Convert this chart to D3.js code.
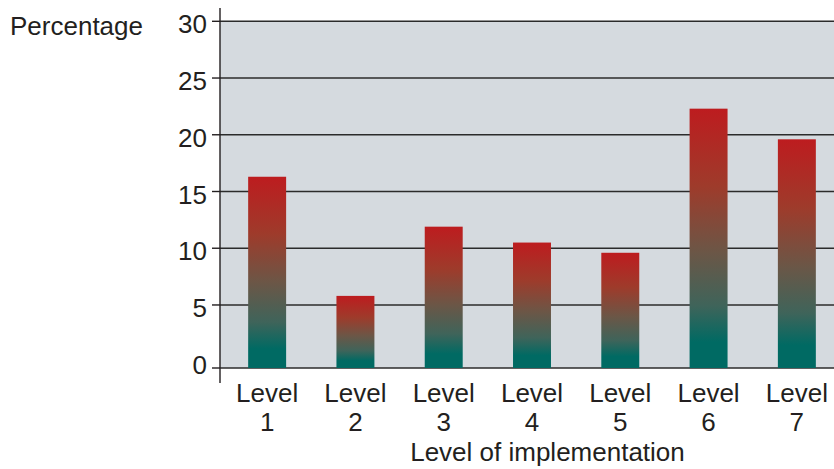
<!DOCTYPE html>
<html>
<head>
<meta charset="utf-8">
<script src="https://cdn.jsdelivr.net/npm/d3@7"></script>
<style>
  html, body { margin: 0; padding: 0; background: #ffffff; }
  svg { display: block; }
  text { font-family: "Liberation Sans", Arial, Helvetica, sans-serif; fill: #231f20; }
</style>
</head>
<body>
<svg id="chart" width="834" height="469"></svg>
<script>
// Share of respondents at each level of implementation
const categories = ["Level 1", "Level 2", "Level 3", "Level 4", "Level 5", "Level 6", "Level 7"];
const values = [16.3, 5.8, 11.9, 10.5, 9.6, 22.3, 19.6];
const yTicks = [0, 5, 10, 15, 20, 25, 30];
const yTitle = "Percentage";
const xTitle = "Level of implementation";

const svg = d3.select("#chart");

const plotLeft = 220, plotRight = 834, plotTop = 21.3;
const y = d3.scaleLinear().domain([0, 30]).range([361.7, plotTop]);
const baseY = y(0) + 6.3;           // baseline sits a little under the zero tick
const x = d3.scaleBand().domain(categories).range([223, 841]).paddingInner(0.57).paddingOuter(0.285);

// bar gradient: red at the top fading into teal at the foot
const defs = svg.append("defs");
const grad = defs.append("linearGradient")
  .attr("id", "barGrad").attr("x1", 0).attr("y1", 0).attr("x2", 0).attr("y2", 1);
[[0, "#bd1c1f"], [0.3, "#9e3b2b"], [0.55, "#6c5646"], [0.76, "#3f645a"], [0.9, "#006a63"], [1, "#006a63"]]
  .forEach(([o, c]) => grad.append("stop").attr("offset", o).attr("stop-color", c));

// plot background
svg.append("rect")
  .attr("x", plotLeft).attr("y", plotTop)
  .attr("width", plotRight - plotLeft).attr("height", baseY - plotTop)
  .attr("fill", "#d5dadf");

// horizontal gridlines
svg.append("g").selectAll("line")
  .data(yTicks.filter(d => d > 0))
  .join("line")
  .attr("x1", plotLeft).attr("x2", plotRight)
  .attr("y1", d => y(d)).attr("y2", d => y(d))
  .attr("stroke", "#2b2b2b").attr("stroke-width", 1.4);

svg.append("line")
  .attr("x1", plotLeft).attr("x2", plotRight)
  .attr("y1", baseY).attr("y2", baseY)
  .attr("stroke", "#2b2b2b").attr("stroke-width", 1.6);

// bars
svg.append("g").selectAll("rect")
  .data(values)
  .join("rect")
  .attr("x", (d, i) => x(categories[i]))
  .attr("width", x.bandwidth())
  .attr("y", d => y(d))
  .attr("height", d => baseY - y(d))
  .attr("fill", "url(#barGrad)");

// y axis line and ticks
svg.append("line")
  .attr("x1", plotLeft).attr("x2", plotLeft)
  .attr("y1", 8).attr("y2", 383)
  .attr("stroke", "#231f20").attr("stroke-width", 1.4);

const tickY = d => d === 0 ? baseY : y(d);
svg.append("g").selectAll("line")
  .data(yTicks)
  .join("line")
  .attr("x1", 212).attr("x2", plotLeft)
  .attr("y1", tickY).attr("y2", tickY)
  .attr("stroke", "#231f20").attr("stroke-width", 1.4);

svg.append("g").selectAll("text")
  .data(yTicks)
  .join("text")
  .attr("x", 207)
  .attr("y", d => y(d) + 3)
  .attr("text-anchor", "end")
  .attr("dominant-baseline", "central")
  .attr("font-size", 26)
  .text(d => d);

// category labels on two lines
const xl = svg.append("g").selectAll("text")
  .data(categories)
  .join("text")
  .attr("text-anchor", "middle")
  .attr("font-size", 26)
  .attr("x", d => x(d) + x.bandwidth() / 2);
xl.append("tspan")
  .attr("x", d => x(d) + x.bandwidth() / 2)
  .attr("y", 402)
  .text(d => d.split(" ")[0]);
xl.append("tspan")
  .attr("x", d => x(d) + x.bandwidth() / 2)
  .attr("y", 431)
  .text(d => d.split(" ")[1]);

// axis titles
svg.append("text")
  .attr("x", 10).attr("y", 35)
  .attr("font-size", 26)
  .text(yTitle);

svg.append("text")
  .attr("x", 547.5).attr("y", 461)
  .attr("text-anchor", "middle")
  .attr("font-size", 26)
  .text(xTitle);
</script>
</body>
</html>
